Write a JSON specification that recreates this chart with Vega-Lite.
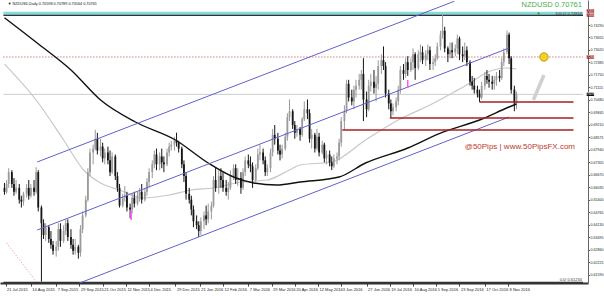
{
"$schema": "https://vega.github.io/schema/vega-lite/v6.json",
"width": 588, "height": 283,
"autosize": {"type": "none"},
"padding": {"left": 0, "top": 0, "right": 16, "bottom": 13},
"background": "#ffffff",
"config": {"view": {"stroke": null}, "font": "Liberation Sans"},
"datasets": {
"candles": [
{"d":"2015-07-20","o":0.6600,"h":0.6625,"l":0.6565,"c":0.6580},
{"d":"2015-07-22","o":0.6580,"h":0.6640,"l":0.6570,"c":0.6620},
{"d":"2015-07-24","o":0.6620,"h":0.6700,"l":0.6600,"c":0.6680},
{"d":"2015-07-27","o":0.6680,"h":0.6690,"l":0.6600,"c":0.6620},
{"d":"2015-07-29","o":0.6620,"h":0.6650,"l":0.6560,"c":0.6580},
{"d":"2015-07-31","o":0.6580,"h":0.6640,"l":0.6570,"c":0.6600},
{"d":"2015-08-03","o":0.6600,"h":0.6620,"l":0.6520,"c":0.6540},
{"d":"2015-08-05","o":0.6540,"h":0.6560,"l":0.6500,"c":0.6530},
{"d":"2015-08-07","o":0.6530,"h":0.6580,"l":0.6510,"c":0.6570},
{"d":"2015-08-10","o":0.6570,"h":0.6620,"l":0.6550,"c":0.6600},
{"d":"2015-08-12","o":0.6600,"h":0.6640,"l":0.6540,"c":0.6560},
{"d":"2015-08-14","o":0.6560,"h":0.6620,"l":0.6550,"c":0.6600},
{"d":"2015-08-17","o":0.6600,"h":0.6640,"l":0.6560,"c":0.6580},
{"d":"2015-08-19","o":0.6580,"h":0.6705,"l":0.6570,"c":0.6680},
{"d":"2015-08-21","o":0.6680,"h":0.6690,"l":0.6480,"c":0.6500},
{"d":"2015-08-24","o":0.6500,"h":0.6510,"l":0.6123,"c":0.6420},
{"d":"2015-08-26","o":0.6420,"h":0.6440,"l":0.6340,"c":0.6360},
{"d":"2015-08-28","o":0.6360,"h":0.6420,"l":0.6330,"c":0.6400},
{"d":"2015-08-31","o":0.6400,"h":0.6410,"l":0.6320,"c":0.6340},
{"d":"2015-09-02","o":0.6340,"h":0.6380,"l":0.6290,"c":0.6310},
{"d":"2015-09-04","o":0.6310,"h":0.6330,"l":0.6260,"c":0.6280},
{"d":"2015-09-07","o":0.6280,"h":0.6330,"l":0.6250,"c":0.6300},
{"d":"2015-09-09","o":0.6300,"h":0.6420,"l":0.6280,"c":0.6390},
{"d":"2015-09-11","o":0.6390,"h":0.6420,"l":0.6300,"c":0.6330},
{"d":"2015-09-14","o":0.6330,"h":0.6410,"l":0.6320,"c":0.6380},
{"d":"2015-09-16","o":0.6380,"h":0.6440,"l":0.6360,"c":0.6420},
{"d":"2015-09-18","o":0.6420,"h":0.6440,"l":0.6330,"c":0.6350},
{"d":"2015-09-21","o":0.6350,"h":0.6390,"l":0.6290,"c":0.6310},
{"d":"2015-09-23","o":0.6310,"h":0.6340,"l":0.6260,"c":0.6280},
{"d":"2015-09-25","o":0.6280,"h":0.6340,"l":0.6260,"c":0.6300},
{"d":"2015-09-28","o":0.6300,"h":0.6310,"l":0.6240,"c":0.6270},
{"d":"2015-09-30","o":0.6270,"h":0.6410,"l":0.6250,"c":0.6390},
{"d":"2015-10-02","o":0.6390,"h":0.6480,"l":0.6370,"c":0.6460},
{"d":"2015-10-05","o":0.6460,"h":0.6560,"l":0.6450,"c":0.6540},
{"d":"2015-10-07","o":0.6540,"h":0.6700,"l":0.6530,"c":0.6680},
{"d":"2015-10-09","o":0.6680,"h":0.6800,"l":0.6660,"c":0.6780},
{"d":"2015-10-12","o":0.6780,"h":0.6820,"l":0.6720,"c":0.6800},
{"d":"2015-10-14","o":0.6800,"h":0.6896,"l":0.6790,"c":0.6850},
{"d":"2015-10-16","o":0.6850,"h":0.6880,"l":0.6770,"c":0.6790},
{"d":"2015-10-19","o":0.6790,"h":0.6850,"l":0.6760,"c":0.6810},
{"d":"2015-10-21","o":0.6810,"h":0.6830,"l":0.6730,"c":0.6750},
{"d":"2015-10-23","o":0.6750,"h":0.6800,"l":0.6720,"c":0.6780},
{"d":"2015-10-26","o":0.6780,"h":0.6810,"l":0.6720,"c":0.6740},
{"d":"2015-10-28","o":0.6740,"h":0.6790,"l":0.6660,"c":0.6680},
{"d":"2015-10-30","o":0.6680,"h":0.6780,"l":0.6670,"c":0.6760},
{"d":"2015-11-02","o":0.6760,"h":0.6770,"l":0.6640,"c":0.6660},
{"d":"2015-11-04","o":0.6660,"h":0.6680,"l":0.6580,"c":0.6600},
{"d":"2015-11-06","o":0.6600,"h":0.6620,"l":0.6500,"c":0.6510},
{"d":"2015-11-09","o":0.6510,"h":0.6570,"l":0.6500,"c":0.6550},
{"d":"2015-11-11","o":0.6550,"h":0.6610,"l":0.6530,"c":0.6560},
{"d":"2015-11-13","o":0.6560,"h":0.6580,"l":0.6480,"c":0.6500},
{"d":"2015-11-16","o":0.6500,"h":0.6520,"l":0.6445,"c":0.6490},
{"d":"2015-11-18","o":0.6490,"h":0.6570,"l":0.6470,"c":0.6550},
{"d":"2015-11-20","o":0.6550,"h":0.6580,"l":0.6500,"c":0.6520},
{"d":"2015-11-23","o":0.6520,"h":0.6580,"l":0.6510,"c":0.6560},
{"d":"2015-11-25","o":0.6560,"h":0.6600,"l":0.6530,"c":0.6580},
{"d":"2015-11-27","o":0.6580,"h":0.6620,"l":0.6520,"c":0.6540},
{"d":"2015-11-30","o":0.6540,"h":0.6600,"l":0.6530,"c":0.6580},
{"d":"2015-12-02","o":0.6580,"h":0.6650,"l":0.6560,"c":0.6630},
{"d":"2015-12-04","o":0.6630,"h":0.6700,"l":0.6600,"c":0.6680},
{"d":"2015-12-07","o":0.6680,"h":0.6740,"l":0.6650,"c":0.6720},
{"d":"2015-12-09","o":0.6720,"h":0.6790,"l":0.6700,"c":0.6770},
{"d":"2015-12-11","o":0.6770,"h":0.6800,"l":0.6690,"c":0.6720},
{"d":"2015-12-14","o":0.6720,"h":0.6780,"l":0.6690,"c":0.6760},
{"d":"2015-12-16","o":0.6760,"h":0.6800,"l":0.6700,"c":0.6730},
{"d":"2015-12-18","o":0.6730,"h":0.6760,"l":0.6680,"c":0.6720},
{"d":"2015-12-21","o":0.6720,"h":0.6800,"l":0.6710,"c":0.6780},
{"d":"2015-12-23","o":0.6780,"h":0.6830,"l":0.6760,"c":0.6810},
{"d":"2015-12-25","o":0.6810,"h":0.6840,"l":0.6790,"c":0.6820},
{"d":"2015-12-28","o":0.6820,"h":0.6860,"l":0.6790,"c":0.6840},
{"d":"2015-12-30","o":0.6840,"h":0.6881,"l":0.6810,"c":0.6830},
{"d":"2016-01-01","o":0.6830,"h":0.6840,"l":0.6780,"c":0.6800},
{"d":"2016-01-04","o":0.6800,"h":0.6810,"l":0.6700,"c":0.6720},
{"d":"2016-01-06","o":0.6720,"h":0.6740,"l":0.6630,"c":0.6660},
{"d":"2016-01-08","o":0.6660,"h":0.6680,"l":0.6540,"c":0.6570},
{"d":"2016-01-11","o":0.6570,"h":0.6600,"l":0.6520,"c":0.6540},
{"d":"2016-01-13","o":0.6540,"h":0.6560,"l":0.6460,"c":0.6490},
{"d":"2016-01-15","o":0.6490,"h":0.6510,"l":0.6400,"c":0.6430},
{"d":"2016-01-18","o":0.6430,"h":0.6460,"l":0.6390,"c":0.6410},
{"d":"2016-01-20","o":0.6410,"h":0.6430,"l":0.6350,"c":0.6380},
{"d":"2016-01-22","o":0.6380,"h":0.6450,"l":0.6360,"c":0.6430},
{"d":"2016-01-25","o":0.6430,"h":0.6480,"l":0.6390,"c":0.6460},
{"d":"2016-01-27","o":0.6460,"h":0.6510,"l":0.6410,"c":0.6440},
{"d":"2016-01-29","o":0.6440,"h":0.6520,"l":0.6420,"c":0.6480},
{"d":"2016-02-01","o":0.6480,"h":0.6530,"l":0.6440,"c":0.6510},
{"d":"2016-02-03","o":0.6510,"h":0.6660,"l":0.6500,"c":0.6640},
{"d":"2016-02-05","o":0.6640,"h":0.6705,"l":0.6580,"c":0.6600},
{"d":"2016-02-08","o":0.6600,"h":0.6690,"l":0.6570,"c":0.6660},
{"d":"2016-02-10","o":0.6660,"h":0.6700,"l":0.6600,"c":0.6640},
{"d":"2016-02-12","o":0.6640,"h":0.6680,"l":0.6580,"c":0.6600},
{"d":"2016-02-15","o":0.6600,"h":0.6640,"l":0.6560,"c":0.6580},
{"d":"2016-02-17","o":0.6580,"h":0.6630,"l":0.6540,"c":0.6600},
{"d":"2016-02-19","o":0.6600,"h":0.6690,"l":0.6590,"c":0.6660},
{"d":"2016-02-22","o":0.6660,"h":0.6720,"l":0.6640,"c":0.6700},
{"d":"2016-02-24","o":0.6700,"h":0.6720,"l":0.6620,"c":0.6640},
{"d":"2016-02-26","o":0.6640,"h":0.6700,"l":0.6610,"c":0.6650},
{"d":"2016-02-29","o":0.6650,"h":0.6680,"l":0.6570,"c":0.6600},
{"d":"2016-03-02","o":0.6600,"h":0.6700,"l":0.6590,"c":0.6680},
{"d":"2016-03-04","o":0.6680,"h":0.6760,"l":0.6660,"c":0.6740},
{"d":"2016-03-07","o":0.6740,"h":0.6770,"l":0.6700,"c":0.6720},
{"d":"2016-03-09","o":0.6720,"h":0.6760,"l":0.6680,"c":0.6710},
{"d":"2016-03-11","o":0.6710,"h":0.6730,"l":0.6600,"c":0.6640},
{"d":"2016-03-14","o":0.6640,"h":0.6720,"l":0.6630,"c":0.6700},
{"d":"2016-03-16","o":0.6700,"h":0.6800,"l":0.6690,"c":0.6770},
{"d":"2016-03-18","o":0.6770,"h":0.6820,"l":0.6740,"c":0.6780},
{"d":"2016-03-21","o":0.6780,"h":0.6800,"l":0.6720,"c":0.6740},
{"d":"2016-03-23","o":0.6740,"h":0.6760,"l":0.6660,"c":0.6680},
{"d":"2016-03-25","o":0.6680,"h":0.6720,"l":0.6660,"c":0.6700},
{"d":"2016-03-28","o":0.6700,"h":0.6800,"l":0.6680,"c":0.6780},
{"d":"2016-03-30","o":0.6780,"h":0.6900,"l":0.6760,"c":0.6870},
{"d":"2016-04-01","o":0.6870,"h":0.6920,"l":0.6820,"c":0.6850},
{"d":"2016-04-04","o":0.6850,"h":0.6880,"l":0.6770,"c":0.6790},
{"d":"2016-04-06","o":0.6790,"h":0.6820,"l":0.6740,"c":0.6770},
{"d":"2016-04-08","o":0.6770,"h":0.6820,"l":0.6750,"c":0.6800},
{"d":"2016-04-11","o":0.6800,"h":0.6880,"l":0.6790,"c":0.6860},
{"d":"2016-04-13","o":0.6860,"h":0.6980,"l":0.6840,"c":0.6960},
{"d":"2016-04-15","o":0.6960,"h":0.7050,"l":0.6940,"c":0.6990},
{"d":"2016-04-18","o":0.6990,"h":0.7000,"l":0.6900,"c":0.6920},
{"d":"2016-04-20","o":0.6920,"h":0.6940,"l":0.6850,"c":0.6880},
{"d":"2016-04-22","o":0.6880,"h":0.6920,"l":0.6860,"c":0.6900},
{"d":"2016-04-25","o":0.6900,"h":0.6910,"l":0.6840,"c":0.6870},
{"d":"2016-04-27","o":0.6870,"h":0.6960,"l":0.6860,"c":0.6950},
{"d":"2016-04-29","o":0.6950,"h":0.7040,"l":0.6940,"c":0.7000},
{"d":"2016-05-02","o":0.7000,"h":0.7050,"l":0.6950,"c":0.6980},
{"d":"2016-05-04","o":0.6980,"h":0.7000,"l":0.6830,"c":0.6850},
{"d":"2016-05-06","o":0.6850,"h":0.6900,"l":0.6800,"c":0.6870},
{"d":"2016-05-09","o":0.6870,"h":0.6880,"l":0.6780,"c":0.6800},
{"d":"2016-05-11","o":0.6800,"h":0.6900,"l":0.6790,"c":0.6860},
{"d":"2016-05-13","o":0.6860,"h":0.6880,"l":0.6760,"c":0.6780},
{"d":"2016-05-16","o":0.6780,"h":0.6840,"l":0.6770,"c":0.6820},
{"d":"2016-05-18","o":0.6820,"h":0.6830,"l":0.6730,"c":0.6750},
{"d":"2016-05-20","o":0.6750,"h":0.6790,"l":0.6720,"c":0.6770},
{"d":"2016-05-23","o":0.6770,"h":0.6790,"l":0.6710,"c":0.6730},
{"d":"2016-05-25","o":0.6730,"h":0.6760,"l":0.6690,"c":0.6710},
{"d":"2016-05-27","o":0.6710,"h":0.6770,"l":0.6700,"c":0.6750},
{"d":"2016-05-30","o":0.6750,"h":0.6780,"l":0.6720,"c":0.6760},
{"d":"2016-06-01","o":0.6760,"h":0.6850,"l":0.6740,"c":0.6830},
{"d":"2016-06-03","o":0.6830,"h":0.6960,"l":0.6810,"c":0.6940},
{"d":"2016-06-06","o":0.6940,"h":0.7020,"l":0.6895,"c":0.6990},
{"d":"2016-06-08","o":0.6990,"h":0.7150,"l":0.6980,"c":0.7130},
{"d":"2016-06-10","o":0.7130,"h":0.7150,"l":0.7040,"c":0.7060},
{"d":"2016-06-13","o":0.7060,"h":0.7100,"l":0.7020,"c":0.7040},
{"d":"2016-06-15","o":0.7040,"h":0.7120,"l":0.7000,"c":0.7100},
{"d":"2016-06-17","o":0.7100,"h":0.7150,"l":0.7060,"c":0.7120},
{"d":"2016-06-20","o":0.7120,"h":0.7180,"l":0.7100,"c":0.7150},
{"d":"2016-06-22","o":0.7150,"h":0.7200,"l":0.7100,"c":0.7180},
{"d":"2016-06-24","o":0.7180,"h":0.7260,"l":0.6940,"c":0.7050},
{"d":"2016-06-27","o":0.7050,"h":0.7090,"l":0.6960,"c":0.7000},
{"d":"2016-06-29","o":0.7000,"h":0.7150,"l":0.6990,"c":0.7120},
{"d":"2016-07-01","o":0.7120,"h":0.7180,"l":0.7090,"c":0.7140},
{"d":"2016-07-04","o":0.7140,"h":0.7200,"l":0.7080,"c":0.7110},
{"d":"2016-07-06","o":0.7110,"h":0.7170,"l":0.7040,"c":0.7130},
{"d":"2016-07-08","o":0.7130,"h":0.7250,"l":0.7100,"c":0.7220},
{"d":"2016-07-11","o":0.7220,"h":0.7280,"l":0.7180,"c":0.7250},
{"d":"2016-07-13","o":0.7250,"h":0.7320,"l":0.7200,"c":0.7220},
{"d":"2016-07-15","o":0.7220,"h":0.7240,"l":0.7060,"c":0.7080},
{"d":"2016-07-18","o":0.7080,"h":0.7100,"l":0.7000,"c":0.7030},
{"d":"2016-07-20","o":0.7030,"h":0.7050,"l":0.6956,"c":0.6990},
{"d":"2016-07-22","o":0.6990,"h":0.7030,"l":0.6970,"c":0.7010},
{"d":"2016-07-25","o":0.7010,"h":0.7060,"l":0.6990,"c":0.7040},
{"d":"2016-07-27","o":0.7040,"h":0.7120,"l":0.7020,"c":0.7100},
{"d":"2016-07-29","o":0.7100,"h":0.7220,"l":0.7080,"c":0.7200},
{"d":"2016-08-01","o":0.7200,"h":0.7230,"l":0.7150,"c":0.7180},
{"d":"2016-08-03","o":0.7180,"h":0.7260,"l":0.7160,"c":0.7240},
{"d":"2016-08-05","o":0.7240,"h":0.7270,"l":0.7170,"c":0.7200},
{"d":"2016-08-08","o":0.7200,"h":0.7260,"l":0.7190,"c":0.7240},
{"d":"2016-08-10","o":0.7240,"h":0.7310,"l":0.7200,"c":0.7280},
{"d":"2016-08-12","o":0.7280,"h":0.7290,"l":0.7150,"c":0.7210},
{"d":"2016-08-15","o":0.7210,"h":0.7300,"l":0.7200,"c":0.7280},
{"d":"2016-08-17","o":0.7280,"h":0.7330,"l":0.7240,"c":0.7290},
{"d":"2016-08-19","o":0.7290,"h":0.7320,"l":0.7230,"c":0.7250},
{"d":"2016-08-22","o":0.7250,"h":0.7300,"l":0.7220,"c":0.7280},
{"d":"2016-08-24","o":0.7280,"h":0.7330,"l":0.7250,"c":0.7300},
{"d":"2016-08-26","o":0.7300,"h":0.7320,"l":0.7200,"c":0.7230},
{"d":"2016-08-29","o":0.7230,"h":0.7260,"l":0.7200,"c":0.7240},
{"d":"2016-08-31","o":0.7240,"h":0.7280,"l":0.7220,"c":0.7260},
{"d":"2016-09-02","o":0.7260,"h":0.7340,"l":0.7250,"c":0.7320},
{"d":"2016-09-05","o":0.7320,"h":0.7400,"l":0.7300,"c":0.7380},
{"d":"2016-09-07","o":0.7380,"h":0.7485,"l":0.7360,"c":0.7400},
{"d":"2016-09-09","o":0.7400,"h":0.7420,"l":0.7290,"c":0.7310},
{"d":"2016-09-12","o":0.7310,"h":0.7320,"l":0.7240,"c":0.7280},
{"d":"2016-09-14","o":0.7280,"h":0.7340,"l":0.7260,"c":0.7300},
{"d":"2016-09-16","o":0.7300,"h":0.7340,"l":0.7260,"c":0.7290},
{"d":"2016-09-19","o":0.7290,"h":0.7330,"l":0.7270,"c":0.7310},
{"d":"2016-09-21","o":0.7310,"h":0.7380,"l":0.7280,"c":0.7360},
{"d":"2016-09-23","o":0.7360,"h":0.7370,"l":0.7250,"c":0.7280},
{"d":"2016-09-26","o":0.7280,"h":0.7320,"l":0.7240,"c":0.7270},
{"d":"2016-09-28","o":0.7270,"h":0.7340,"l":0.7250,"c":0.7300},
{"d":"2016-09-30","o":0.7300,"h":0.7320,"l":0.7220,"c":0.7240},
{"d":"2016-10-03","o":0.7240,"h":0.7250,"l":0.7120,"c":0.7140},
{"d":"2016-10-05","o":0.7140,"h":0.7170,"l":0.7100,"c":0.7120},
{"d":"2016-10-07","o":0.7120,"h":0.7160,"l":0.7080,"c":0.7100},
{"d":"2016-10-10","o":0.7100,"h":0.7120,"l":0.7060,"c":0.7080},
{"d":"2016-10-12","o":0.7080,"h":0.7100,"l":0.7037,"c":0.7060},
{"d":"2016-10-14","o":0.7060,"h":0.7140,"l":0.7050,"c":0.7120},
{"d":"2016-10-17","o":0.7120,"h":0.7190,"l":0.7100,"c":0.7170},
{"d":"2016-10-19","o":0.7170,"h":0.7200,"l":0.7130,"c":0.7150},
{"d":"2016-10-21","o":0.7150,"h":0.7180,"l":0.7110,"c":0.7140},
{"d":"2016-10-24","o":0.7140,"h":0.7170,"l":0.7100,"c":0.7130},
{"d":"2016-10-26","o":0.7130,"h":0.7170,"l":0.7100,"c":0.7150},
{"d":"2016-10-28","o":0.7150,"h":0.7190,"l":0.7120,"c":0.7170},
{"d":"2016-10-31","o":0.7170,"h":0.7200,"l":0.7140,"c":0.7160},
{"d":"2016-11-02","o":0.7160,"h":0.7260,"l":0.7150,"c":0.7240},
{"d":"2016-11-04","o":0.7240,"h":0.7310,"l":0.7220,"c":0.7290},
{"d":"2016-11-07","o":0.7290,"h":0.7400,"l":0.7280,"c":0.7380},
{"d":"2016-11-09","o":0.7380,"h":0.7390,"l":0.7230,"c":0.7260},
{"d":"2016-11-11","o":0.7260,"h":0.7270,"l":0.7080,"c":0.7100},
{"d":"2016-11-14","o":0.7100,"h":0.7120,"l":0.6990,"c":0.7030},
{"d":"2016-11-16","o":0.7030,"h":0.7090,"l":0.7000,"c":0.7076}
],
"ma": [
{"s":"m200","d":"2015-07-20","v":0.7466},
{"s":"m200","d":"2015-08-20","v":0.73374},
{"s":"m200","d":"2015-09-21","v":0.72000},
{"s":"m200","d":"2015-10-19","v":0.70473},
{"s":"m200","d":"2015-11-21","v":0.69353},
{"s":"m200","d":"2015-12-29","v":0.68437},
{"s":"m200","d":"2016-01-29","v":0.67266},
{"s":"m200","d":"2016-02-22","v":0.66554},
{"s":"m200","d":"2016-03-12","v":0.66248},
{"s":"m200","d":"2016-04-03","v":0.66147},
{"s":"m200","d":"2016-04-25","v":0.66299},
{"s":"m200","d":"2016-06-01","v":0.66554},
{"s":"m200","d":"2016-06-26","v":0.67266},
{"s":"m200","d":"2016-08-05","v":0.68030},
{"s":"m200","d":"2016-09-05","v":0.68791},
{"s":"m200","d":"2016-10-12","v":0.69455},
{"s":"m200","d":"2016-11-09","v":0.70117},
{"s":"m200","d":"2016-11-16","v":0.70269},
{"s":"m100","d":"2015-07-20","v":0.72300},
{"s":"m100","d":"2015-08-19","v":0.70473},
{"s":"m100","d":"2015-09-14","v":0.68437},
{"s":"m100","d":"2015-10-03","v":0.66910},
{"s":"m100","d":"2015-10-19","v":0.66248},
{"s":"m100","d":"2015-11-06","v":0.65892},
{"s":"m100","d":"2015-11-28","v":0.65485},
{"s":"m100","d":"2015-12-23","v":0.65638},
{"s":"m100","d":"2016-01-13","v":0.65892},
{"s":"m100","d":"2016-02-03","v":0.65994},
{"s":"m100","d":"2016-02-29","v":0.66299},
{"s":"m100","d":"2016-03-25","v":0.66401},
{"s":"m100","d":"2016-04-15","v":0.66910},
{"s":"m100","d":"2016-04-25","v":0.67165},
{"s":"m100","d":"2016-05-25","v":0.67317},
{"s":"m100","d":"2016-06-26","v":0.68437},
{"s":"m100","d":"2016-07-27","v":0.69455},
{"s":"m100","d":"2016-08-26","v":0.70219},
{"s":"m100","d":"2016-09-18","v":0.70880},
{"s":"m100","d":"2016-10-03","v":0.71338},
{"s":"m100","d":"2016-10-18","v":0.71847},
{"s":"m100","d":"2016-11-06","v":0.72102},
{"s":"m100","d":"2016-11-16","v":0.72051}
],
"tl": [
{"id":"u","d":"2015-08-20","p":0.67317},{"id":"u","d":"2016-09-18","p":0.75497},
{"id":"m","d":"2015-08-20","p":0.63856},{"id":"m","d":"2016-11-09","p":0.73120},
{"id":"l","d":"2015-09-12","p":0.60802},{"id":"l","d":"2016-11-09","p":0.69608}
],
"fan": [
{"d":"2015-07-22","p":0.63194},{"d":"2015-08-20","p":0.61158}
],
"hl": [
{"k":"fib","d":"2015-07-19","e":"2017-01-18","p":0.74780},
{"k":"fib","d":"2015-07-19","e":"2017-01-18","p":0.61190},
{"k":"bid","d":"2015-07-19","e":"2017-01-18","p":0.70761},
{"k":"dot","d":"2015-07-19","e":"2017-01-18","p":0.72662},
{"k":"sup","d":"2016-10-12","e":"2017-01-09","p":0.70371},
{"k":"sup","d":"2016-07-19","e":"2017-01-09","p":0.69557},
{"k":"sup","d":"2016-06-04","e":"2017-01-09","p":0.68946}
],
"band": [
{"d":"2015-07-19","e":"2017-01-18","p":0.74967,"q":0.74800}
],
"pink": [
{"d":"2015-11-17","l":0.6436,"h":0.6487},
{"d":"2016-08-05","l":0.7108,"h":0.7149}
],
"wedge": [
{"d":"2016-12-02","p":0.70473},{"d":"2016-12-12","p":0.71745}
],
"coin": [
{"d":"2016-12-12","p":0.72662}
],
"tri": [
{"d":"2016-12-07","p":0.74901}
],
"boxes": [
{"d":"2017-01-25","p":0.75010,"t":"0.74979","k":"r"},
{"d":"2017-01-25","p":0.74800,"t":"0.74844","k":"r"},
{"d":"2017-01-25","p":0.72662,"t":"0.72662","k":"r"},
{"d":"2017-01-25","p":0.70761,"t":"0.70761","k":"b"}
],
"txt": [
{"k":"wm","d":"2016-09-28","p":0.6808,"t":"@50Pips | www.50PipsFX.com"},
{"k":"sym","d":"2017-01-17","p":0.75300,"t":"NZDUSD  0.70761"},
{"k":"info","d":"2015-07-23","p":0.75360,"t":"▼ NZDUSD,Daily  0.70598 0.70789 0.70564 0.70761"},
{"k":"fib","d":"2017-01-17","p":0.74870,"t":"100.0/ 0.74844"},
{"k":"fib","d":"2017-01-17","p":0.61330,"t":"0.0/ 0.61234"}
]
},
"encoding": {
"x": {"field": "d", "type": "temporal",
 "scale": {"type": "utc", "domain": [{"year":2015,"month":7,"date":20,"hours":12,"utc":true},{"year":2017,"month":1,"date":18,"utc":true}]},
 "axis": {"title": null, "grid": false, "format": "%-d %b %Y", "labelAlign": "left", "labelFontSize": 4, "labelColor": "#222", "labelPadding": 1, "labelOffset": 1, "tickSize": 3, "tickColor": "#444", "domainColor": "#333", "domainWidth": 2, "labelFlush": false, "labelOverlap": false, "labelBound": false,
  "values": [
   {"year":2015,"month":7,"date":21,"utc":true},{"year":2015,"month":8,"date":14,"utc":true},{"year":2015,"month":9,"date":7,"utc":true},{"year":2015,"month":9,"date":29,"utc":true},{"year":2015,"month":10,"date":21,"utc":true},{"year":2015,"month":11,"date":12,"utc":true},{"year":2015,"month":12,"date":4,"utc":true},{"year":2015,"month":12,"date":29,"utc":true},{"year":2016,"month":1,"date":21,"utc":true},{"year":2016,"month":2,"date":12,"utc":true},{"year":2016,"month":3,"date":7,"utc":true},{"year":2016,"month":3,"date":29,"utc":true},{"year":2016,"month":4,"date":20,"utc":true},{"year":2016,"month":5,"date":12,"utc":true},{"year":2016,"month":6,"date":3,"utc":true},{"year":2016,"month":6,"date":27,"utc":true},{"year":2016,"month":7,"date":19,"utc":true},{"year":2016,"month":8,"date":10,"utc":true},{"year":2016,"month":9,"date":1,"utc":true},{"year":2016,"month":9,"date":23,"utc":true},{"year":2016,"month":10,"date":17,"utc":true},{"year":2016,"month":11,"date":8,"utc":true}
  ]}},
"y": {"field": "p", "type": "quantitative", "title": null,
 "scale": {"domain": [0.61158, 0.75563], "nice": false, "zero": false},
 "axis": {"orient": "right", "title": null, "grid": false, "format": ".5f", "labelFontSize": 3.6, "labelColor": "#222", "labelPadding": 0.5, "tickSize": 1.5, "tickColor": "#555", "domainColor": "#666", "domainWidth": 1, "labelOverlap": false, "labelBound": false, "labelFlush": false,
  "values": [0.7429,0.73655,0.7302,0.72385,0.7175,0.71115,0.7048,0.69845,0.6921,0.68575,0.6794,0.67305,0.6667,0.66035,0.654,0.64765,0.6413,0.63495,0.6286,0.62225,0.6159]}}
},
"layer": [
{"data": {"name": "band"}, "mark": {"type": "rect", "color": "#86dada", "clip": true},
 "encoding": {"x2": {"field": "e"}, "y2": {"field": "q"}}},
{"data": {"name": "hl"}, "transform": [{"filter": "datum.k == 'bid'"}], "mark": {"type": "rule", "color": "#cccccc", "strokeWidth": 1, "clip": true},
 "encoding": {"x2": {"field": "e"}}},
{"data": {"name": "hl"}, "transform": [{"filter": "datum.k == 'dot'"}], "mark": {"type": "rule", "color": "#c03a3a", "strokeWidth": 1, "strokeDash": [1, 2], "clip": true},
 "encoding": {"x2": {"field": "e"}}},
{"data": {"name": "hl"}, "transform": [{"filter": "datum.k == 'fib'"}], "mark": {"type": "rule", "color": "#333333", "strokeWidth": 1.2, "clip": true},
 "encoding": {"x2": {"field": "e"}}},
{"data": {"name": "fan"}, "mark": {"type": "line", "color": "#f08080", "strokeWidth": 1, "strokeDash": [1, 2], "clip": true},
 "encoding": {}},
{"data": {"name": "ma"}, "transform": [{"filter": "datum.s == 'm100'"}], "mark": {"type": "line", "color": "#c8c8c8", "strokeWidth": 1.2, "interpolate": "monotone", "clip": true},
 "encoding": {"y": {"field": "v", "type": "quantitative", "title": null, "scale": {"domain": [0.61158, 0.75563], "nice": false, "zero": false}}}},
{"data": {"name": "candles"}, "mark": {"type": "rule", "strokeWidth": 1, "clip": true},
 "encoding": {"y": {"field": "l", "type": "quantitative", "title": null, "scale": {"domain": [0.61158, 0.75563], "nice": false, "zero": false}},
  "y2": {"field": "h"},
  "color": {"condition": {"test": "datum.c >= datum.o", "value": "#9a9a9a"}, "value": "#151515"}}},
{"data": {"name": "candles"}, "mark": {"type": "bar", "width": 1.8, "clip": true},
 "encoding": {"y": {"field": "o", "type": "quantitative", "title": null, "scale": {"domain": [0.61158, 0.75563], "nice": false, "zero": false}}, "y2": {"field": "c"},
  "color": {"condition": {"test": "datum.c >= datum.o", "value": "#9a9a9a"}, "value": "#151515"}}},
{"data": {"name": "ma"}, "transform": [{"filter": "datum.s == 'm200'"}], "mark": {"type": "line", "color": "#111111", "strokeWidth": 1.4, "interpolate": "monotone", "clip": true},
 "encoding": {"y": {"field": "v", "type": "quantitative", "title": null, "scale": {"domain": [0.61158, 0.75563], "nice": false, "zero": false}}}},
{"data": {"name": "tl"}, "mark": {"type": "line", "color": "#6060d0", "strokeWidth": 1, "clip": true},
 "encoding": {"detail": {"field": "id"}}},
{"data": {"name": "hl"}, "transform": [{"filter": "datum.k == 'sup'"}], "mark": {"type": "rule", "color": "#a82020", "strokeWidth": 1.5, "clip": true},
 "encoding": {"x2": {"field": "e"}}},
{"data": {"name": "pink"}, "mark": {"type": "rule", "color": "#ff55ff", "strokeWidth": 1.5},
 "encoding": {"y": {"field": "l", "type": "quantitative", "title": null, "scale": {"domain": [0.61158, 0.75563], "nice": false, "zero": false}}, "y2": {"field": "h"}}},
{"data": {"name": "wedge"}, "mark": {"type": "line", "color": "#d0d0d0", "strokeWidth": 3.5, "strokeCap": "butt"},
 "encoding": {}},
{"data": {"name": "coin"}, "mark": {"type": "point", "filled": true, "size": 70, "color": "#f2d024", "stroke": "#c89a10", "strokeWidth": 1, "opacity": 1},
 "encoding": {}},
{"data": {"name": "tri"}, "mark": {"type": "point", "shape": "triangle-up", "filled": true, "size": 10, "color": "#2e9e2e", "opacity": 1},
 "encoding": {}},
{"data": {"name": "txt"}, "transform": [{"filter": "datum.k == 'wm'"}], "mark": {"type": "text", "align": "left", "baseline": "middle", "fontSize": 8, "color": "#c0392b", "font": "Liberation Sans"},
 "encoding": {"text": {"field": "t"}}},
{"data": {"name": "txt"}, "transform": [{"filter": "datum.k == 'sym'"}], "mark": {"type": "text", "align": "right", "baseline": "middle", "fontSize": 7.5, "color": "#4cae4c", "font": "Liberation Sans"},
 "encoding": {"text": {"field": "t"}}},
{"data": {"name": "txt"}, "transform": [{"filter": "datum.k == 'info'"}], "mark": {"type": "text", "align": "left", "baseline": "middle", "fontSize": 3.8, "color": "#111", "font": "Liberation Sans"},
 "encoding": {"text": {"field": "t"}}},
{"data": {"name": "txt"}, "transform": [{"filter": "datum.k == 'fib'"}], "mark": {"type": "text", "align": "right", "baseline": "middle", "fontSize": 4, "color": "#333", "font": "Liberation Sans"},
 "encoding": {"text": {"field": "t"}}},
{"data": {"name": "boxes"}, "mark": {"type": "point", "shape": "M-1,-0.45L1,-0.45L1,0.45L-1,0.45Z", "filled": true, "size": 56, "opacity": 1},
 "encoding": {"color": {"condition": {"test": "datum.k == 'b'", "value": "#111111"}, "value": "#9b1c1c"}}},
{"data": {"name": "boxes"}, "mark": {"type": "text", "align": "center", "baseline": "middle", "fontSize": 3.6, "color": "#ffffff", "font": "Liberation Sans"},
 "encoding": {"text": {"field": "t"}}}
]
}
